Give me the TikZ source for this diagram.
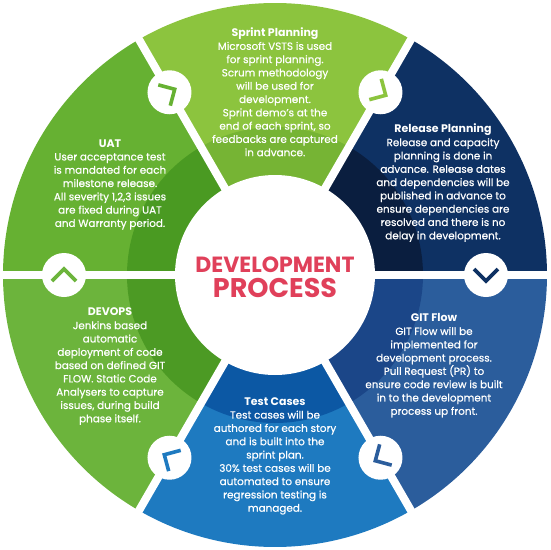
\documentclass[tikz,border=0pt]{standalone}
\usepackage{fontspec}
\setmainfont{Poppins}
\newfontfamily\bodyfont[FakeBold=0.6]{Poppins}
\definecolor{uatO}{HTML}{66B132}\definecolor{uatI}{HTML}{4A9A22}
\definecolor{spO}{HTML}{8CC43E}\definecolor{spI}{HTML}{76B434}
\definecolor{relO}{HTML}{0E3163}\definecolor{relI}{HTML}{0A1E3F}
\definecolor{gitO}{HTML}{2B5D9C}\definecolor{gitI}{HTML}{1B4688}
\definecolor{tstO}{HTML}{1E7AC0}\definecolor{tstI}{HTML}{0C58A4}
\definecolor{devO}{HTML}{6CB43C}\definecolor{devI}{HTML}{4C9A24}
\definecolor{titlered}{HTML}{E0405A}
\newcommand{\hd}[1]{{\rmfamily\bfseries\fontsize{11}{13.3}\selectfont #1}}
\tikzset{
  bodytext/.style={text=white, align=center, inner sep=0pt, font=\bodyfont\fontsize{10.4}{13.3}\selectfont},
  marker/.style={circle, fill=white, minimum size=44pt, inner sep=0pt},
  chev/.style={line width=3.6pt, line cap=butt, line join=miter},
  sep/.style={white, line width=8pt}
}
\begin{document}
\begin{tikzpicture}[x=1pt,y=1pt]
\useasboundingbox (-275,-275) rectangle (275,275);
% segments: start angle / colour outer / colour inner
\foreach \a/\co/\ci in {0/relO/relI, 60/spO/spI, 120/uatO/uatI, 180/devO/devI, 240/tstO/tstI, 300/gitO/gitI}{
  \fill[\co] (0,0) -- (\a:272) arc[start angle=\a, end angle=\a+60, radius=272] -- cycle;
  \fill[\ci] (0,0) -- (\a:148) arc[start angle=\a, end angle=\a+60, radius=148] -- cycle;
}
% separators
\foreach \a in {0,60,...,300}{
  \draw[sep] (0,0) -- (\a:280);
}
% centre
\node[circle, fill=white, minimum size=200pt, inner sep=0pt] (centre) at (0,0) {};
\node[font=\bfseries\fontsize{22}{24}\selectfont, text=titlered, inner sep=0pt] (t1) at (0,10) {DEVELOPMENT};
\node[font=\bfseries\fontsize{27}{29}\selectfont, text=titlered, inner sep=0pt] (t2) at (0,-13) {PROCESS};
% markers and chevrons
\foreach \a/\c [count=\i] in {0/relO, 60/spO, 120/uatO, 180/devO, 240/tstO, 300/gitO}{
  \node[marker] (m\i) at (\a:211) {};
  \begin{scope}[shift={(m\i.center)}, rotate=\a-90]
    \draw[chev, \c] (-6,12) -- (6,0) -- (-6,-12);
  \end{scope}
}
% texts
\node[bodytext] (sprint) at (0,183) {\hd{Sprint Planning}\\Microsoft VSTS is used\\for sprint planning.\\Scrum methodology\\will be used for\\development.\\Sprint demo’s at the\\end of each sprint, so\\feedbacks are captured\\in advance.};
\node[bodytext] (release) at (168,92) {\hd{Release Planning}\\Release and capacity\\planning is done in\\advance. Release dates\\and dependencies will be\\published in advance to\\ensure dependencies are\\resolved and there is no\\delay in development.};
\node[bodytext] (git) at (159,-90.5) {\hd{GIT Flow}\\GIT Flow will be\\implemented for\\development process.\\Pull Request (PR) to\\ensure code review is built\\in to the development\\process up front.};
\node[bodytext] (test) at (0,-181) {\hd{Test Cases}\\Test cases will be\\authored for each story\\and is built into the\\sprint plan.\\30\% test cases will be\\automated to ensure\\regression testing is\\managed.};
\node[bodytext] (devops) at (-165,-91.5) {\hd{DEVOPS}\\Jenkins based\\automatic\\deployment of code\\based on defined GIT\\FLOW. Static Code\\Analysers to capture\\issues, during build\\phase itself.};
\node[bodytext] (uat) at (-165,90.5) {\hd{UAT}\\User acceptance test\\is mandated for each\\milestone release.\\All severity 1,2,3 issues\\are fixed during UAT\\and Warranty period.};
\end{tikzpicture}
\end{document}
